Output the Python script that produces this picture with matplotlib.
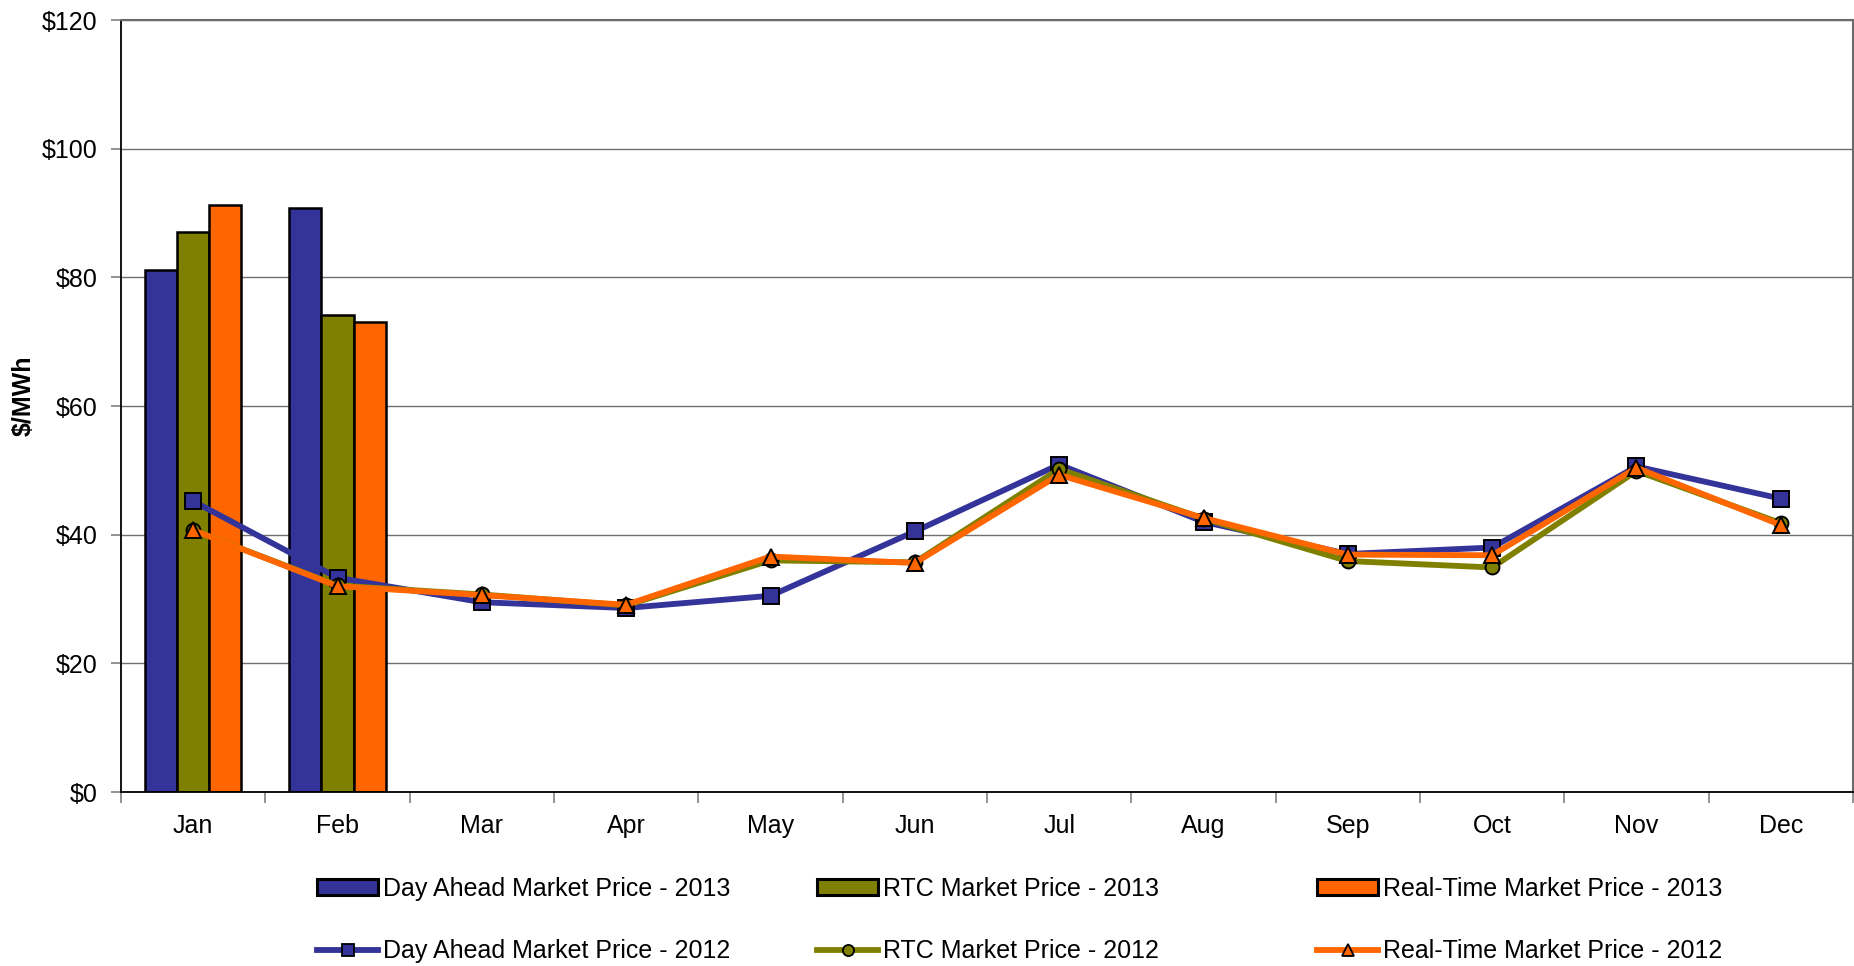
import matplotlib
matplotlib.use("Agg")
import matplotlib.pyplot as plt
from matplotlib.lines import Line2D
from matplotlib.patches import Patch
from matplotlib.ticker import FuncFormatter, FixedLocator
import numpy as np

plt.rcParams['font.family'] = ['Liberation Sans', 'DejaVu Sans']
plt.rcParams['text.parse_math'] = False

months = ["Jan", "Feb", "Mar", "Apr", "May", "Jun", "Jul", "Aug", "Sep", "Oct", "Nov", "Dec"]

# 2013 bars (only Jan, Feb available)
da_2013 = [81.2, 90.7]
rtc_2013 = [87.0, 74.2]
rt_2013 = [91.2, 73.1]

# 2012 lines
da_2012 = [45.2, 33.3, 29.5, 28.6, 30.5, 40.5, 50.9, 42.0, 37.0, 38.0, 50.6, 45.6]
rtc_2012 = [40.7, 32.1, 30.7, 29.0, 36.0, 35.7, 50.2, 42.5, 35.9, 34.9, 49.9, 41.8]
rt_2012 = [40.7, 32.0, 30.6, 29.1, 36.6, 35.6, 49.3, 42.6, 36.9, 36.8, 50.4, 41.5]

labels_2013 = ["Day Ahead Market Price - 2013", "RTC Market Price - 2013", "Real-Time Market Price - 2013"]
labels_2012 = ["Day Ahead Market Price - 2012", "RTC Market Price - 2012", "Real-Time Market Price - 2012"]
colors = ["#333399", "#808000", "#FF6600"]
markers = ["s", "o", "^"]
msizes = [11, 10, 11]

W, H, DPI = 1854, 966, 100
fig = plt.figure(figsize=(W / DPI, H / DPI), dpi=DPI)
ax = fig.add_axes([121 / W, 1 - 792 / H, (1853 - 121) / W, (792 - 20) / H])

x = np.arange(len(months))
bw = 0.222
for i, (vals, c) in enumerate(zip([da_2013, rtc_2013, rt_2013], colors)):
    xs = x[:len(vals)] + (i - 1) * bw
    ax.bar(xs, vals, width=bw, color=c, edgecolor="black", linewidth=1.8, zorder=2)

for vals, c, m, ms in zip([da_2012, rtc_2012, rt_2012], colors, markers, msizes):
    ax.plot(x, vals, color=c, linewidth=4.2, marker=m, markersize=ms,
            markerfacecolor=c, markeredgecolor="black", markeredgewidth=1.4, zorder=3,
            solid_joinstyle="round")

ax.set_xlim(-0.5, len(months) - 0.5)
ax.set_ylim(0, 120)
ax.set_yticks(np.arange(0, 121, 20))
ax.yaxis.set_major_formatter(FuncFormatter(lambda v, p: f"${v:.0f}"))
ax.yaxis.grid(True, color="#707070", linewidth=1.0, zorder=0)
ax.set_axisbelow(True)

ax.xaxis.set_major_locator(FixedLocator(np.arange(-0.5, len(months), 1.0)))
ax.xaxis.set_major_formatter(FuncFormatter(lambda v, p: ""))
ax.xaxis.set_minor_locator(FixedLocator(x))
ax.set_xticklabels(months, minor=True)
ax.tick_params(axis="x", which="major", direction="out", length=8, width=1.2, color="#808080")
ax.tick_params(axis="x", which="minor", length=0, pad=16, labelsize=18)
ax.tick_params(axis="y", which="major", direction="out", length=7, width=1.2, color="#808080",
               pad=10, labelsize=18)

for s in ["left", "bottom"]:
    ax.spines[s].set_color("black")
    ax.spines[s].set_linewidth(1.3)
for s in ["top", "right"]:
    ax.spines[s].set_color("#6a6a6a")
    ax.spines[s].set_linewidth(1.5)

fig.text(24 / W, 1 - 396 / H, "$/MWh", rotation=90, ha="center", va="center",
         fontsize=18, fontweight="bold")

col_x = [317, 817, 1317]
for i in range(3):
    handles = [
        Patch(facecolor=colors[i], edgecolor="black", linewidth=2.2),
        Line2D([0], [0], color=colors[i], linewidth=4.2, marker=markers[i],
               markersize=msizes[i] * 0.8, markerfacecolor=colors[i],
               markeredgecolor="black", markeredgewidth=1.3),
    ]
    fig.legend(handles, [labels_2013[i], labels_2012[i]], loc="center left",
               bbox_to_anchor=(col_x[i] / W, 1 - 920 / H), frameon=False,
               fontsize=18, borderpad=0, borderaxespad=0, handlelength=2.45,
               handleheight=0.6, handletextpad=0.2, labelspacing=1.54)

fig.savefig("out.png", dpi=DPI)
